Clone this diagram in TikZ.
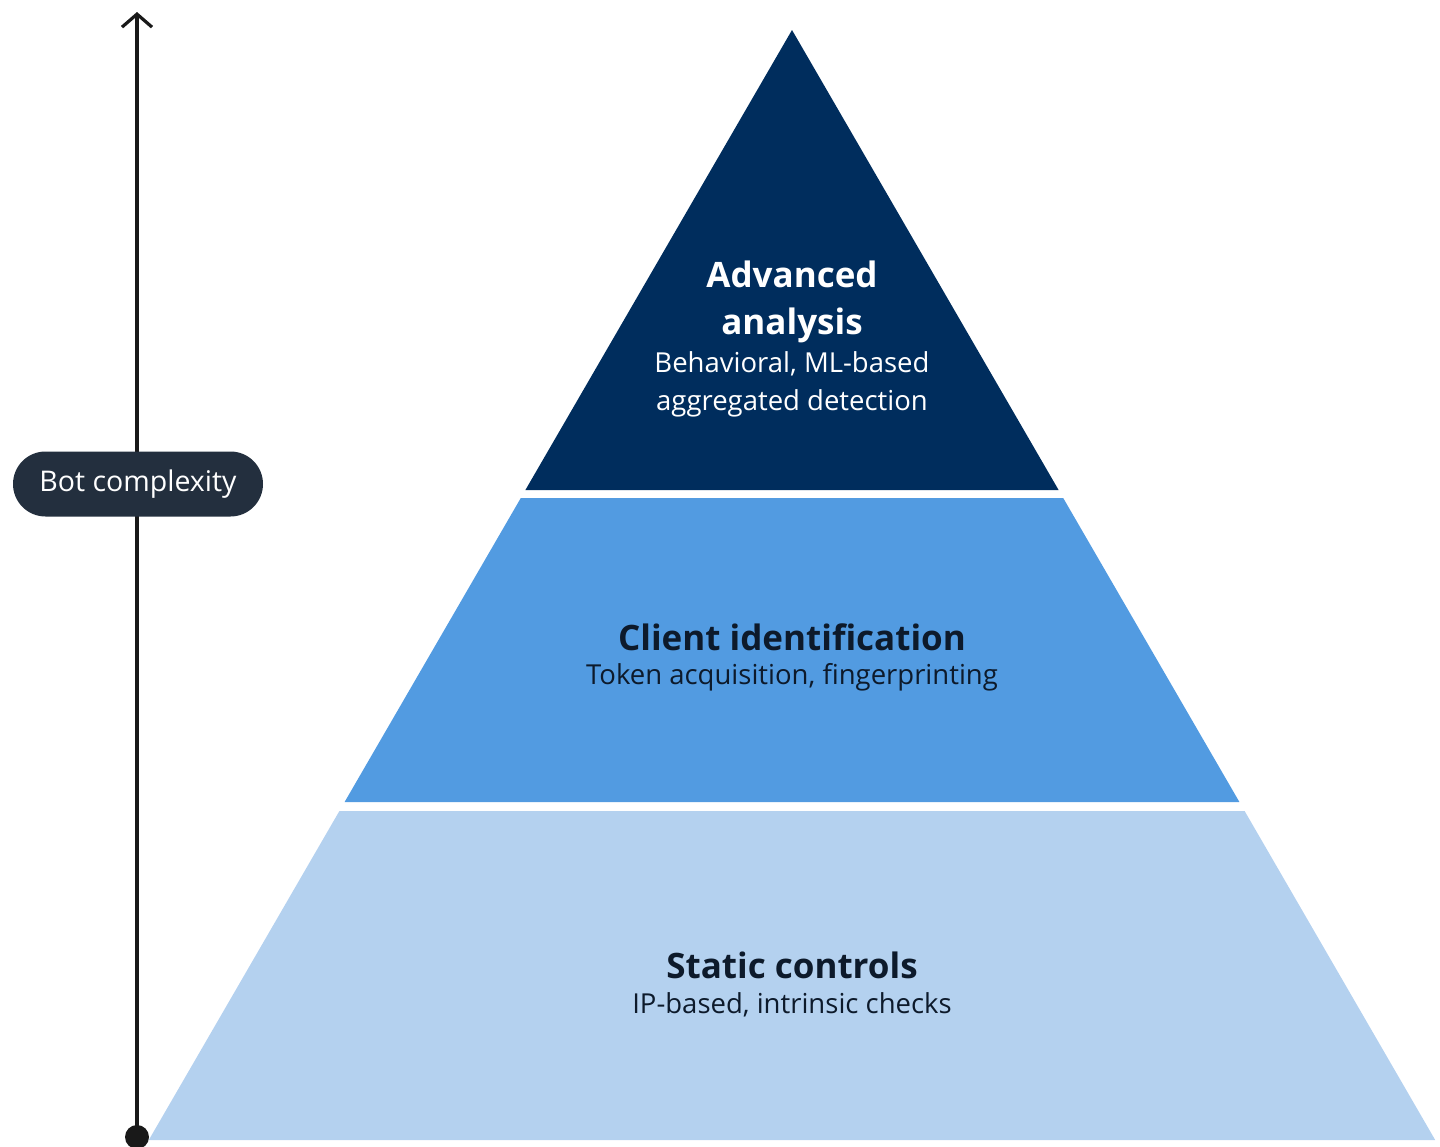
\documentclass[tikz,border=0pt]{standalone}
\usepackage{fontspec}
\setmainfont{Open Sans}
\usetikzlibrary{arrows.meta,shapes.misc}
\definecolor{navy}{HTML}{002D5D}
\definecolor{midblue}{HTML}{529BE1}
\definecolor{lightblue}{HTML}{B4D1EF}
\definecolor{ink}{HTML}{232F3E}
\definecolor{darktext}{HTML}{0D1A2B}
\tikzset{
  tierhead/.style={font=\fontsize{35}{47}\selectfont\bfseries, align=center, inner sep=0pt},
  tiersub/.style={font=\fontsize{27.5}{38}\selectfont, align=center, inner sep=0pt},
  pill/.style={fill=ink, text=white, rounded rectangle, minimum width=250pt, minimum height=65pt, inner sep=0pt, font=\fontsize{28.5}{32}\selectfont},
  axis/.style={line width=3.2pt, draw=black!90, -{Straight Barb[length=13pt,width=30pt,line width=3.2pt]}}
}
\begin{document}
\begin{tikzpicture}[x=1pt,y=-1pt]
\useasboundingbox (0,0) rectangle (1440,1146);
% tiers
\fill[navy] (792,30) -- (1058.6,490) -- (525.4,490) -- cycle;
\fill[midblue] (520.8,498) -- (1063.2,498) -- (1239.4,802) -- (344.6,802) -- cycle;
\fill[lightblue] (339.4,811) -- (1244.6,811) -- (1435.2,1140) -- (148.8,1140) -- cycle;
% texts
\node[tierhead, text=white] (advh) at (792,302) {Advanced\\analysis};
\node[tiersub, text=white] (advs) at (792,384) {Behavioral, ML-based\\aggregated detection};
\node[tierhead, text=darktext] (clih) at (792,637) {Client identification};
\node[tiersub, text=darktext] (clis) at (792,677) {Token acquisition, fingerprinting};
\node[tierhead, text=darktext] (stah) at (792,965) {Static controls};
\node[tiersub, text=darktext] (stas) at (792,1005) {IP-based, intrinsic checks};
% axis
\coordinate (base) at (137,1137);
\coordinate (tip) at (137,12);
\draw[axis] (base) -- (tip);
\fill[black!90] (base) circle (12pt);
\node[pill] (bot) at (138,484) {Bot complexity};
\end{tikzpicture}
\end{document}
